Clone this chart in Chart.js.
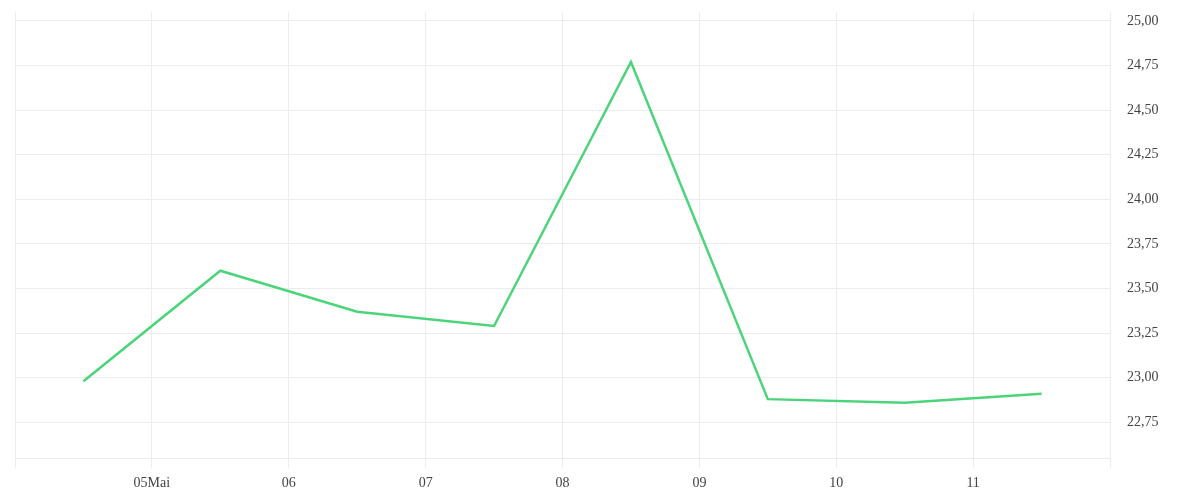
<!DOCTYPE html>
<html>
<head>
<meta charset="utf-8">
<script src="https://cdn.jsdelivr.net/npm/chart.js@4/dist/chart.umd.min.js"></script>
<style>
    html, body { margin: 0; padding: 0; background: #ffffff; }
    .wrap { position: relative; width: 1200px; height: 500px; }
</style>
</head>
<body>
<div class="wrap"><canvas id="priceChart"></canvas></div>
<script>
// day labels sit on the grid lines, values sit half way between them
const dayLabels = ['05Mai', '06', '07', '08', '09', '10', '11'];
const dayValues = [22.98, 23.60, 23.37, 23.29, 24.77, 22.88, 22.86, 22.91];
const yTicks = [22.75, 23.00, 23.25, 23.50, 23.75, 24.00, 24.25, 24.50, 24.75, 25.00];

document.addEventListener('DOMContentLoaded', () => {
    const gridColor = '#ececec';
    const textColor = '#444444';
    const font = { family: '"Liberation Serif", serif', size: 14 };

    const points = dayValues.map((v, i) => ({ x: i + 0.5, y: v }));

    new Chart(document.getElementById('priceChart'), {
        type: 'line',
        data: {
            datasets: [
                {
                    data: points,
                    borderColor: '#4cd47b',
                    borderWidth: 2.5,
                    pointRadius: 0,
                    tension: 0,
                    fill: false,
                },
            ],
        },
        options: {
            responsive: true,
            maintainAspectRatio: false,
            animation: false,
            layout: { padding: { left: 15, top: 12, right: 0, bottom: 0 } },
            plugins: {
                legend: { display: false },
                tooltip: { enabled: false },
            },
            scales: {
                x: {
                    type: 'linear',
                    min: 0,
                    max: dayLabels.length + 1,
                    afterBuildTicks: (scale) => {
                        scale.ticks = [];
                        for (let i = 0; i <= dayLabels.length + 1; i++) {
                            scale.ticks.push({ value: i });
                        }
                    },
                    afterFit: (scale) => {
                        scale.height = 42;
                        scale.paddingLeft = 0;
                        scale.paddingRight = 0;
                    },
                    grid: { color: gridColor, tickLength: 10 },
                    border: { color: gridColor },
                    ticks: {
                        color: textColor,
                        font,
                        padding: 7,
                        maxRotation: 0,
                        autoSkip: false,
                        callback: (value) => dayLabels[value - 1] || '',
                    },
                },
                y: {
                    position: 'right',
                    min: 22.55,
                    max: 25.05,
                    afterBuildTicks: (scale) => {
                        scale.ticks = yTicks.map((v) => ({ value: v }));
                    },
                    afterFit: (scale) => {
                        scale.width = 90;
                        scale.paddingTop = 0;
                        scale.paddingBottom = 0;
                    },
                    grid: { color: gridColor, drawTicks: false },
                    border: { color: gridColor },
                    ticks: {
                        color: textColor,
                        font,
                        padding: 17,
                        callback: (value) => value.toFixed(2).replace('.', ','),
                    },
                },
            },
        },
    });
});
</script>
</body>
</html>
